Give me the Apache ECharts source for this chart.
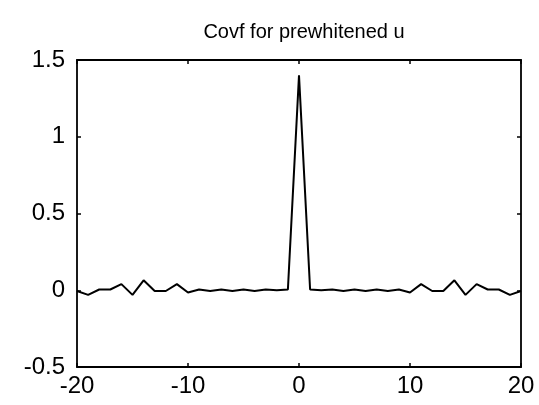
<!DOCTYPE html>
<html>
<head>
<meta charset="utf-8">
<script src="https://cdn.jsdelivr.net/npm/echarts@6/dist/echarts.min.js"></script>
<style>
html,body{margin:0;padding:0;background:#fff;}
#chart{width:539px;height:405px;}
</style>
</head>
<body>
<div id="chart"></div>
<script>
const titleText = "Covf for prewhitened u";
const lags = [-20,-19,-18,-17,-16,-15,-14,-13,-12,-11,-10,-9,-8,-7,-6,-5,-4,-3,-2,-1,0,1,2,3,4,5,6,7,8,9,10,11,12,13,14,15,16,17,18,19,20];
const covf = [-0.005,-0.03,0.005,0.005,0.04,-0.03,0.065,-0.005,-0.005,0.04,-0.015,0.005,-0.005,0.005,-0.005,0.005,-0.005,0.005,0.0,0.005,
  1.40,
  0.005,0.0,0.005,-0.005,0.005,-0.005,0.005,-0.005,0.005,-0.015,0.04,-0.005,-0.005,0.065,-0.03,0.04,0.005,0.005,-0.03,-0.005];
const xTicks = [-20,-10,0,10,20];
const yTicks = [-0.5,0,0.5,1,1.5];

const chart = echarts.init(document.getElementById('chart'), null, {renderer:'canvas'});
const font = 'Liberation Sans, Arial, sans-serif';
const axisLineStyle = {color:'#000', width:1.8};
const tickStyle = {show:true, inside:true, length:4, lineStyle:{color:'#000', width:1.5}};
chart.setOption({
  animation:false,
  backgroundColor:'#fff',
  title:{text:titleText, left:299, top:17, textAlign:'center',
    textStyle:{fontFamily:font, fontWeight:'normal', fontSize:20, color:'#000'}},
  grid:{left:77, right:18, top:60, bottom:38, containLabel:false},
  xAxis:[
    {type:'value', position:'bottom', min:xTicks[0], max:xTicks[xTicks.length-1], interval:10,
     axisLine:{show:true, onZero:false, lineStyle:axisLineStyle},
     axisTick:tickStyle,
     axisLabel:{fontFamily:font, fontSize:24, color:'#000', margin:7},
     splitLine:{show:false}},
    {type:'value', position:'top', min:xTicks[0], max:xTicks[xTicks.length-1], interval:10,
     axisLine:{show:true, onZero:false, lineStyle:axisLineStyle},
     axisTick:tickStyle,
     axisLabel:{show:false}, splitLine:{show:false}}
  ],
  yAxis:[
    {type:'value', position:'left', min:yTicks[0], max:yTicks[yTicks.length-1], interval:0.5,
     axisLine:{show:true, onZero:false, lineStyle:axisLineStyle},
     axisTick:tickStyle,
     axisLabel:{fontFamily:font, fontSize:24, color:'#000', margin:12},
     splitLine:{show:false}},
    {type:'value', position:'right', min:yTicks[0], max:yTicks[yTicks.length-1], interval:0.5,
     axisLine:{show:true, onZero:false, lineStyle:axisLineStyle},
     axisTick:tickStyle,
     axisLabel:{show:false}, splitLine:{show:false}}
  ],
  series:[{
    type:'line', xAxisIndex:0, yAxisIndex:0,
    data: lags.map((l,i)=>[l, covf[i]]),
    showSymbol:false, symbol:'none',
    lineStyle:{color:'#000', width:2},
    clip:true
  }]
});
</script>
</body>
</html>
